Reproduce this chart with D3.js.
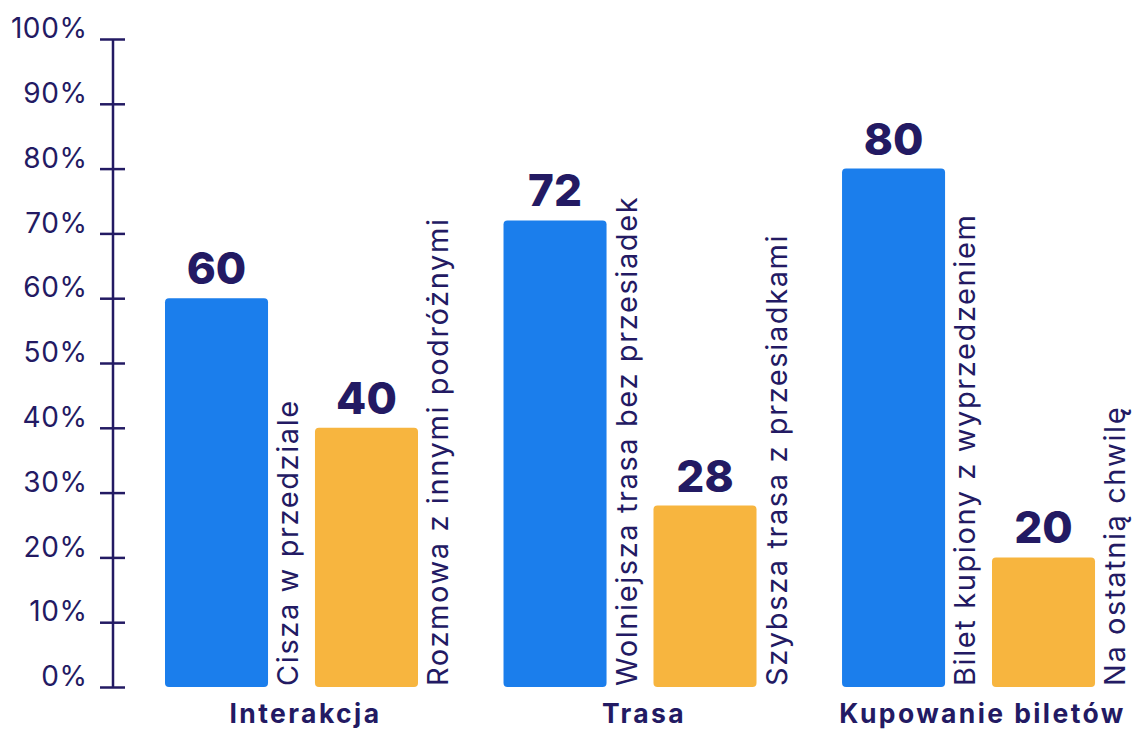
<!DOCTYPE html>
<html>
<head>
<meta charset="utf-8">
<script src="https://cdn.jsdelivr.net/npm/d3@7"></script>
<style>
  html, body { margin: 0; padding: 0; background: #ffffff; }
  svg { display: block; }
</style>
</head>
<body>
<svg id="chart" width="1133" height="729"></svg>
<script>
// ---- data ----
const groups = ["Interakcja", "Trasa", "Kupowanie biletów"];
const seriesKeys = ["a", "b"];
const seriesA = [60, 72, 80];
const seriesB = [40, 28, 20];
const labelsA = ["Cisza w przedziale", "Wolniejsza trasa bez przesiadek", "Bilet kupiony z wyprzedzeniem"];
const labelsB = ["Rozmowa z innymi podróżnymi", "Szybsza trasa z przesiadkami", "Na ostatnią chwilę"];
const yTicks = [0, 10, 20, 30, 40, 50, 60, 70, 80, 90, 100];

// ---- styles ----
const NAVY = "#231a63";
const BLUE = "#1b7eec";
const YELLOW = "#f7b53f";
const FONT = "Inter, 'Noto Sans', sans-serif";

const svg = d3.select("#chart");

const y = d3.scaleLinear().domain([0, 100]).range([687, 39]);
const x0 = d3.scaleBand().domain(groups).range([165, 1123]).paddingInner(0.17).paddingOuter(0);
const x1 = d3.scaleBand().domain(seriesKeys).range([0, 253]).paddingInner(0.313).paddingOuter(0);

// axis
const axisX = 112.5;
const yAxis = d3.axisLeft(y).tickValues(yTicks).tickSize(0).tickFormat(d => d + "%");
const ax = svg.append("g").attr("transform", `translate(${axisX},0)`).call(yAxis);
ax.select(".domain").attr("stroke", NAVY).attr("stroke-width", 2.5);
ax.selectAll(".tick line").remove();
ax.selectAll(".tick").append("line")
  .attr("x1", -12.5).attr("x2", 12.5)
  .attr("stroke", NAVY).attr("stroke-width", 2.5);
ax.selectAll(".tick text")
  .attr("x", -25).attr("dy", "-0.05em")
  .attr("fill", NAVY)
  .style("font-family", FONT)
  .style("font-size", "28px")
  .style("letter-spacing", "0.6px")
  .style("font-weight", 400)
  .attr("text-anchor", "end");

const data = groups.map((g, i) => ({
  group: g,
  bars: [
    { key: "a", value: seriesA[i], label: labelsA[i], color: BLUE },
    { key: "b", value: seriesB[i], label: labelsB[i], color: YELLOW }
  ]
}));

const gG = svg.selectAll("g.grp").data(data).join("g")
  .attr("class", "grp")
  .attr("transform", d => `translate(${x0(d.group)},0)`);

const bar = gG.selectAll("g.bar").data(d => d.bars).join("g").attr("class", "bar");

bar.append("rect")
  .attr("x", d => x1(d.key))
  .attr("y", d => y(d.value))
  .attr("width", x1.bandwidth())
  .attr("height", d => y(0) - y(d.value))
  .attr("rx", 4).attr("ry", 4)
  .attr("fill", d => d.color);

bar.append("text")
  .attr("x", d => x1(d.key) + x1.bandwidth() / 2)
  .attr("y", d => y(d.value) - 14)
  .attr("text-anchor", "middle")
  .attr("fill", NAVY)
  .style("font-family", FONT)
  .style("font-size", "44px")
  .style("font-weight", 800)
  .text(d => d.value);

bar.append("text")
  .attr("transform", d => `translate(${x1(d.key) + x1.bandwidth() + 30},${y(0) - 1}) rotate(-90)`)
  .attr("text-anchor", "start")
  .attr("fill", NAVY)
  .style("font-family", FONT)
  .style("font-size", "29px")
  .style("letter-spacing", "1.6px")
  .style("font-weight", 400)
  .text(d => d.label);

gG.append("text")
  .attr("x", x0.bandwidth() / 2)
  .attr("y", 723)
  .attr("text-anchor", "middle")
  .attr("fill", NAVY)
  .style("font-family", FONT)
  .style("font-size", "26.5px")
  .style("letter-spacing", "2.4px")
  .style("font-weight", 700)
  .text(d => d.group);
</script>
</body>
</html>
